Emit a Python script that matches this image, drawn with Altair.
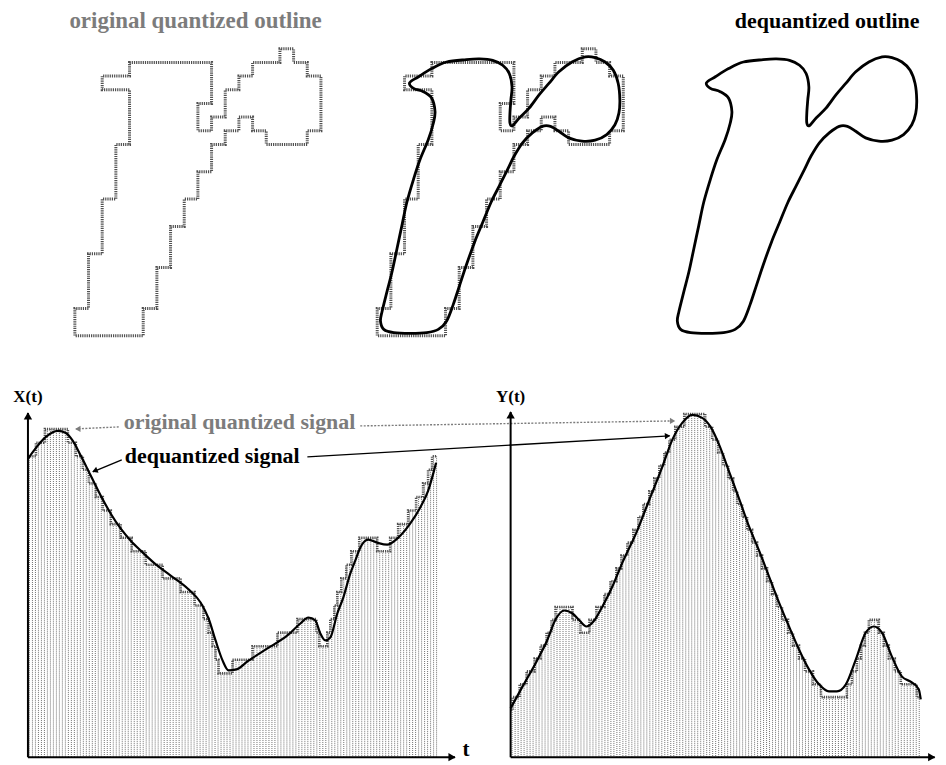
import altair as alt
import pandas as pd

# ---------------- values ----------------
# quantized outline of the letter: corner points on the pixel grid (column, row from top)
Q_COL = [4,10,10,9,9,10,10,11,11,12,12,13,13,15,15,16,16,17,17,18,18,17,17,14,14,13,13,12,12,11,11,
         10,10,9,9,8,8,7,7,6,6,5,5,0,0,1,1,2,2,3,3,4,4,2,2,4,4]
Q_ROW = [1,1,4,4,6,6,5,5,3,3,2,2,1,1,0,0,1,1,2,2,6,6,7,7,6,6,5,5,6,6,7,7,
         9,9,11,11,13,13,16,16,19,19,21,21,19,19,15,15,11,11,7,7,3,3,2,2,1]

# dequantized outline: points along the smooth contour (same grid units)
S_COL = [2.37,3.02,3.99,5.07,6.52,7.49,8.45,9.18,9.66,9.86,9.78,9.71,9.71,9.90,10.39,11.11,11.84,12.56,
         13.29,14.25,15.22,15.94,16.67,17.27,17.63,17.75,17.68,17.39,16.79,15.94,14.98,14.01,13.29,12.68,
         12.08,11.35,10.63,10.02,9.54,8.94,8.33,7.73,7.13,6.52,6.04,5.56,5.07,4.47,3.62,2.42,1.21,0.48,
         0.24,0.36,0.72,1.09,1.45,1.81,2.17,2.66,3.14,3.74,4.11,4.23,3.99,3.38,2.66]
S_ROW = [2.49,2.05,1.45,0.97,0.80,0.75,0.85,1.21,1.81,2.78,3.74,4.71,5.43,5.63,5.07,4.35,3.38,2.54,
         1.69,0.97,0.60,0.65,0.97,1.57,2.54,3.74,4.71,5.56,6.28,6.69,6.76,6.52,6.04,5.68,
         5.68,6.16,6.88,7.85,8.82,10.02,11.23,12.68,14.13,15.82,17.27,18.72,19.93,20.53,20.77,20.82,20.77,20.53,
         19.93,19.20,17.75,16.30,14.61,12.92,11.23,9.54,8.09,6.64,5.43,4.59,3.62,3.14,2.90]

# X(t): dequantized signal
X_T = [0,8,18,30,38,45,53,63,73,83,93,103,113,126,143,160,173,181,188,195,
       201,209,220,240,260,273,281,288,293,298,303,310,316,323,328,333,341,350,360,370,383,393,401,409]
X_V = [299,310,321,327,325,317,302,282,262,244,229,217,207,195,182,169,155,139,117,97,
       87,88,96,109,122,134,140,137,124,117,120,144,160,184,197,210,218,215,213,219,234,250,267,295]
# X(t): original quantized signal (step start times, step levels, end time)
XQ_T = [0,8,17,40,48,55,61,68,75,83,93,104,118,135,153,167,176,181,185,188,
        191,205,225,250,270,289,292,300,303,307,310,314,319,324,332,350,363,371,381,389,396,401,405]
XQ_V = [301.6,315.2,328.8,315.2,301.6,288.0,274.4,260.8,247.2,233.6,220.0,206.4,192.8,179.2,165.6,152.0,
        138.4,124.8,111.2,97.6,84.0,97.6,111.2,124.8,138.4,124.8,111.2,124.8,138.4,152.0,
        165.6,179.2,192.8,206.4,220.0,206.4,220.0,233.6,247.2,260.8,274.4,288.0,301.6]
XQ_END = 410

# Y(t): dequantized signal
Y_T = [0,12,26,37,45,54,62,69,76,83,92,102,112,126,139,152,162,172,182,192,
       201,209,219,229,239,249,259,269,279,289,299,309,319,327,336,346,356,364,372,382,392,402,409,411]
Y_V = [49,71,96,118,138,147,144,137,131,136,151,171,195,225,258,291,318,335,343,340,
       330,313,286,259,231,207,181,155,131,108,88,73,66,66,73,98,125,131,125,101,81,75,68,58]
# Y(t): original quantized signal
YQ_T = [0,2,9,16,24,30,36,41,45,62,70,79,86,94,100,106,111,117,123,128,
        133,139,144,149,154,159,165,174,195,202,208,213,218,223,227,232,237,242,247,252,
        257,262,267,272,278,283,289,295,303,311,337,342,347,351,355,359,369,374,379,385,391,407]
YQ_V = [47.3,60.2,73.1,86.0,98.9,111.8,124.7,137.6,150.5,137.6,
        124.7,137.6,150.5,163.4,176.3,189.2,202.1,215.0,227.9,240.8,
        253.7,266.6,279.5,292.4,305.3,318.2,331.1,344.0,331.1,318.2,
        305.3,292.4,279.5,266.6,253.7,240.8,227.9,215.0,202.1,189.2,
        176.3,163.4,150.5,137.6,124.7,111.8,98.9,86.0,73.1,60.2,
        73.1,86.0,98.9,111.8,124.7,137.6,124.7,111.8,98.9,86.0,73.1,60.2]
YQ_END = 411

# texts
TITLE_Q = "original quantized outline"
TITLE_S = "dequantized outline"
LABEL_Q = "original quantized signal"
LABEL_S = "dequantized signal"

# ---------------- styles / layout ----------------
GREY = "#7c7c7c"
QGREY = "#505050"
SERIF = "Liberation Serif, Times New Roman, Times, DejaVu Serif, serif"
CELL = 13.7                     # px per grid cell in the outline panels
TOP_H, BOT_H = 370, 379
TOP_W = [340, 302, 288]
TOP_LEFT = [66, 29, 24.5]       # px from panel edge to grid column 0
TOP_ROW0 = 38                   # px from panel top to grid row 0
BOT_W = [482, 448]
BOT_LEFT = [19, 20.7]           # px from panel edge to t = 0
BOT_BASE = 3                    # px from panel bottom to value 0

q_df = pd.DataFrame({"col": Q_COL, "row": Q_ROW, "i": range(len(Q_COL))})
s_df = pd.DataFrame({"col": S_COL, "row": S_ROW, "i": range(len(S_COL))})


def top_panel(k, show_q, show_s, title=None, title_col=0.0, title_color="black", title_size=23):
    xs = alt.Scale(domain=[-TOP_LEFT[k] / CELL, (TOP_W[k] - TOP_LEFT[k]) / CELL], nice=False, zero=False)
    ys = alt.Scale(domain=[-TOP_ROW0 / CELL, (TOP_H - TOP_ROW0) / CELL], nice=False, zero=False, reverse=True)
    X = alt.X("col:Q", scale=xs, axis=None)
    Y = alt.Y("row:Q", scale=ys, axis=None)
    layers = []
    if show_q:
        layers.append(alt.Chart(q_df).mark_line(interpolate="linear-closed", color=QGREY,
                                                strokeWidth=3, strokeDash=[1.2, 1])
                      .encode(x=X, y=Y, order=alt.Order("i:Q")))
    if show_s:
        layers.append(alt.Chart(s_df).mark_line(interpolate="cardinal-closed", color="black",
                                                strokeWidth=2.8)
                      .encode(x=X, y=Y, order=alt.Order("i:Q")))
    if title:
        tdf = pd.DataFrame({"col": [title_col], "row": [-1.53], "text": [title]})
        layers.append(alt.Chart(tdf).mark_text(align="center", baseline="alphabetic", font=SERIF,
                                               fontSize=title_size, fontWeight="bold", color=title_color)
                      .encode(x=X, y=Y, text="text:N"))
    return alt.layer(*layers).properties(width=TOP_W[k], height=TOP_H)


def samples(starts, levels, end, step=3.0):
    rows = []
    t = step / 2
    while t < end:
        k = max(i for i, s in enumerate(starts) if s <= t)
        rows.append({"t": t, "v": levels[k]})
        t += step
    return pd.DataFrame(rows)


def signal_panel(k, ct, cv, qt, qv, qend, axis_label, x_tip, y_tip, extra=None):
    xs = alt.Scale(domain=[-BOT_LEFT[k], BOT_W[k] - BOT_LEFT[k]], nice=False, zero=False)
    ys = alt.Scale(domain=[-BOT_BASE, BOT_H - BOT_BASE], nice=False, zero=False)
    X = alt.X("t:Q", scale=xs, axis=None)
    Y = alt.Y("v:Q", scale=ys, axis=None)
    hatch = alt.Chart(samples(qt, qv, qend)).mark_rule(color="#707070", strokeWidth=1, strokeDash=[1, 1]) \
        .encode(x=X, y=Y, y2=alt.datum(0))
    stair_df = pd.DataFrame({"t": list(qt) + [qend], "v": list(qv) + [qv[-1]]})
    stair = alt.Chart(stair_df).mark_line(interpolate="step-after", color=QGREY, strokeWidth=2.6,
                                          strokeDash=[1.2, 1]).encode(x=X, y=Y)
    curve = alt.Chart(pd.DataFrame({"t": ct, "v": cv})).mark_line(interpolate="monotone", color="black",
                                                                  strokeWidth=2.2).encode(x=X, y=Y)
    axes_df = pd.DataFrame({"t": [0, 0], "v": [0, 0], "t2": [x_tip, 0], "v2": [0, y_tip]})
    axes = alt.Chart(axes_df).mark_rule(color="black", strokeWidth=2).encode(
        x=X, y=Y, x2="t2:Q", y2="v2:Q")
    heads_df = pd.DataFrame({"t": [x_tip - 3, 0], "v": [0, y_tip - 3],
                             "shape": ["triangle-right", "triangle-up"]})
    heads = alt.Chart(heads_df).mark_point(filled=True, color="black", opacity=1, size=70).encode(
        x=X, y=Y, shape=alt.Shape("shape:N", scale=None))
    lab_df = pd.DataFrame({"t": [0, x_tip + 11], "v": [356, -3], "text": [axis_label, "t"]})
    lab1 = alt.Chart(lab_df.iloc[[0]]).mark_text(align="center", baseline="alphabetic", font=SERIF,
                                                 fontSize=17, fontWeight="bold", color="black") \
        .encode(x=X, y=Y, text="text:N")
    layers = [hatch, stair, curve, axes, heads, lab1]
    if k == 0:
        lab2 = alt.Chart(lab_df.iloc[[1]]).mark_text(align="center", baseline="bottom", font=SERIF,
                                                     fontSize=21, fontWeight="bold", color="black") \
            .encode(x=X, y=Y, text="text:N")
        layers.append(lab2)
    if extra is not None:
        layers += extra(X, Y)
    return alt.layer(*layers).properties(width=BOT_W[k], height=BOT_H)


def annotations(X, Y):
    grey_lines = pd.DataFrame({"t": [91, 333], "v": [331, 332], "t2": [48, 648], "v2": [329, 337]})
    black_lines = pd.DataFrame({"t": [94, 280], "v": [298, 301], "t2": [65, 643], "v2": [286, 322]})
    gl = alt.Chart(grey_lines).mark_rule(color=GREY, strokeWidth=1.4, strokeDash=[2, 1.5]).encode(
        x=X, y=Y, x2="t2:Q", y2="v2:Q")
    bl = alt.Chart(black_lines).mark_rule(color="black", strokeWidth=1.4).encode(
        x=X, y=Y, x2="t2:Q", y2="v2:Q")
    gh = alt.Chart(pd.DataFrame({"t": [50, 646], "v": [329, 337],
                                 "shape": ["triangle-left", "triangle-right"]})) \
        .mark_point(filled=True, color=GREY, opacity=1, size=38) \
        .encode(x=X, y=Y, shape=alt.Shape("shape:N", scale=None))
    bh_l = alt.Chart(pd.DataFrame({"t": [67], "v": [287]})).mark_point(
        filled=True, color="black", opacity=1, size=40, shape="triangle-left", angle=338).encode(x=X, y=Y)
    bh_r = alt.Chart(pd.DataFrame({"t": [641], "v": [322]})).mark_point(
        filled=True, color="black", opacity=1, size=40, shape="triangle-right", angle=357).encode(x=X, y=Y)
    txt = pd.DataFrame({"t": [96, 97], "v": [328.5, 295], "text": [LABEL_Q, LABEL_S]})
    tq = alt.Chart(txt.iloc[[0]]).mark_text(align="left", baseline="alphabetic", font=SERIF, fontSize=22,
                                            fontWeight="bold", color=GREY).encode(x=X, y=Y, text="text:N")
    ts = alt.Chart(txt.iloc[[1]]).mark_text(align="left", baseline="alphabetic", font=SERIF, fontSize=22,
                                            fontWeight="bold", color="black").encode(x=X, y=Y, text="text:N")
    return [gl, bl, gh, bh_l, bh_r, tq, ts]


p1 = top_panel(0, True, False, TITLE_Q, 8.83, GREY, 23)
p2 = top_panel(1, True, True)
p3 = top_panel(2, False, True, TITLE_S, 11.2, "black", 22)

b1 = signal_panel(0, X_T, X_V, XQ_T, XQ_V, XQ_END, "X(t)", 428, 345, extra=annotations)
b2 = signal_panel(1, Y_T, Y_V, YQ_T, YQ_V, YQ_END, "Y(t)", 425, 346)

top = alt.hconcat(p1, p2, p3, spacing=0, bounds="flush")
bottom = alt.hconcat(b1, b2, spacing=0, bounds="flush")
chart = alt.vconcat(top, bottom, spacing=0, padding=0).configure_view(stroke="transparent")

chart.save("out.html", embed_options={"renderer": "svg", "actions": False})
